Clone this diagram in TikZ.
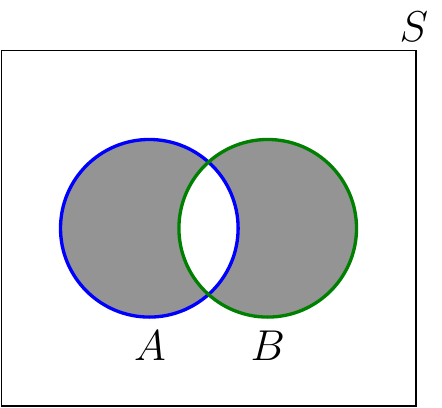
\documentclass[tikz,border=0pt]{standalone}
\begin{document}
\begin{tikzpicture}[
  setcircle/.style={line width=1.6pt},
  lbl/.style={font=\fontsize{20.4}{24}\selectfont, inner sep=0pt, anchor=base}
]
\definecolor{vennfill}{RGB}{148,148,148}
\definecolor{vennblue}{RGB}{0,0,255}
\definecolor{venngreen}{RGB}{0,128,0}
\useasboundingbox (-2.522,-3.019) rectangle (4.944,3.856);
\coordinate (ca) at (0,0);
\coordinate (cb) at (2,0);
\node[draw, line width=0.75pt, minimum width=7cm, minimum height=6cm, inner sep=0pt] (S) at (1,0) {};
\fill[vennfill, even odd rule] (ca) circle (1.5) (cb) circle (1.5);
\draw[setcircle, vennblue] (ca) circle (1.5);
\draw[setcircle, venngreen] (cb) circle (1.5);
\node[lbl] (sl) at (4.47,3.15) {$S$};
\node[lbl] (al) at (0.01,-2.225) {$A$};
\node[lbl] (bl) at (2.0,-2.225) {$B$};
\end{tikzpicture}
\end{document}
